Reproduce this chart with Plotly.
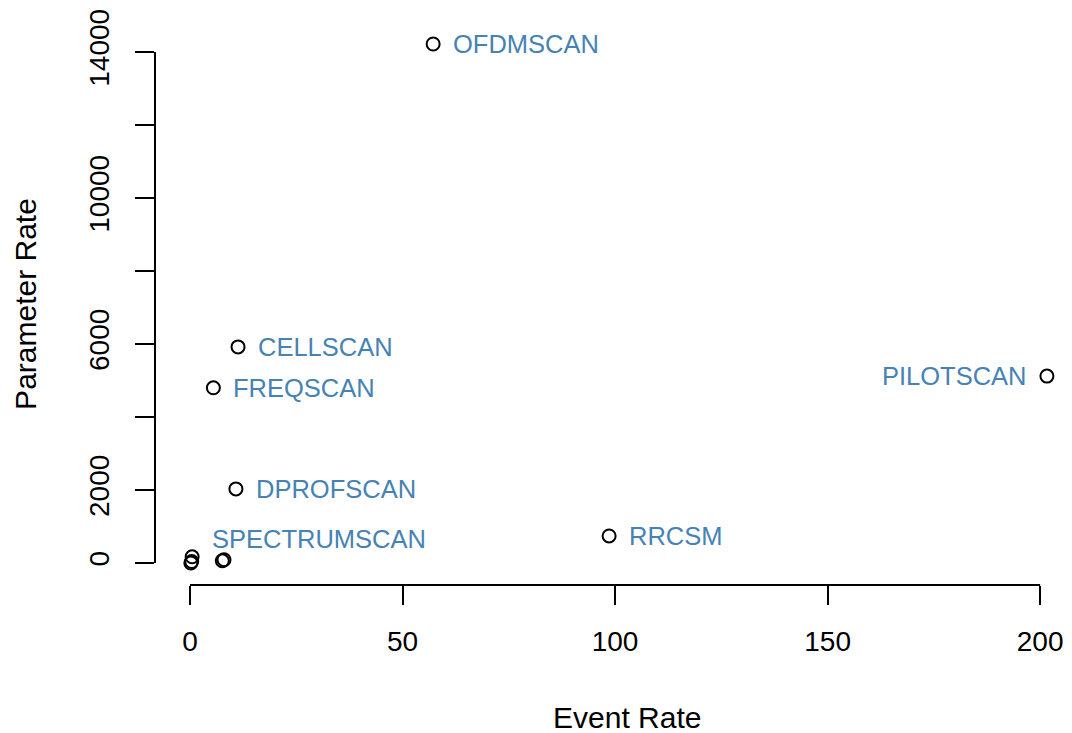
import plotly.graph_objects as go

# Scan types with their event and parameter rates
names = ["OFDMSCAN", "CELLSCAN", "FREQSCAN", "DPROFSCAN", "SPECTRUMSCAN", "RRCSM", "PILOTSCAN",
         "", "", "", ""]
event_rate = [57.2, 11.3, 5.5, 10.8, 0.5, 98.6, 201.6, 0.4, 0.2, 8.0, 7.6]
param_rate = [14220, 5920, 4800, 2030, 170, 740, 5120, 40, 0, 90, 60]

# label placement: side of the point and extra vertical lift
label_side = ["right", "right", "right", "right", "right", "right", "left"]
label_lift = [0, 0, 0, 0, 18, 0, 0]

x_ticks = [0, 50, 100, 150, 200]
y_ticks = [0, 2000, 4000, 6000, 8000, 10000, 12000, 14000]
y_tick_text = ["0", "2000", "", "6000", "", "10000", "", "14000"]

FONT = "Liberation Sans, Arial, sans-serif"
LABEL_COLOR = "#4682B4"

fig = go.Figure()
fig.add_trace(go.Scatter(
    x=event_rate, y=param_rate, mode="markers",
    marker=dict(symbol="circle-open", size=13, color="black", line=dict(width=2, color="black")),
    hoverinfo="skip", showlegend=False,
))

for nm, xv, yv, side, lift in zip(names, event_rate, param_rate, label_side, label_lift):
    if not nm:
        continue
    fig.add_annotation(
        x=xv, y=yv, text=nm, showarrow=False,
        xanchor="left" if side == "right" else "right",
        xshift=18 if side == "right" else -18,
        yshift=lift,
        font=dict(family=FONT, size=25.5, color=LABEL_COLOR),
    )

# x-axis title, centred on the full plotting region
fig.add_annotation(
    xref="paper", yref="paper", x=0.5, y=0, xshift=13, yshift=-132,
    text="Event Rate", showarrow=False, xanchor="center", yanchor="middle",
    font=dict(family=FONT, size=30, color="black"),
)

# axis lines spanning only the tick range
fig.add_shape(type="line", xref="x", yref="paper", x0=x_ticks[0], x1=x_ticks[-1], y0=0, y1=0,
              line=dict(color="black", width=2))
fig.add_shape(type="line", xref="paper", yref="y", x0=0, x1=0, y0=y_ticks[0], y1=y_ticks[-1],
              line=dict(color="black", width=2))

fig.update_xaxes(
    range=[-8.235, 207.5], showgrid=False, zeroline=False, showline=False,
    tickvals=x_ticks, ticks="outside", ticklen=19, tickwidth=2, tickcolor="black",
    ticklabelstandoff=12,
    tickfont=dict(family=FONT, size=28, color="black"),
)
fig.update_yaxes(
    range=[-603, 14795], showgrid=False, zeroline=False, showline=False,
    tickvals=y_ticks, ticktext=y_tick_text, tickangle=-90,
    ticks="outside", ticklen=19, tickwidth=2, tickcolor="black",
    ticklabelstandoff=15,
    tickfont=dict(family=FONT, size=28, color="black"),
    title=dict(text="Parameter Rate", font=dict(family=FONT, size=30, color="black"), standoff=38),
)

fig.update_layout(
    width=1072, height=733,
    margin=dict(l=155, r=0, t=23, b=148),
    paper_bgcolor="white", plot_bgcolor="white",
)

fig.write_html("out.html")
